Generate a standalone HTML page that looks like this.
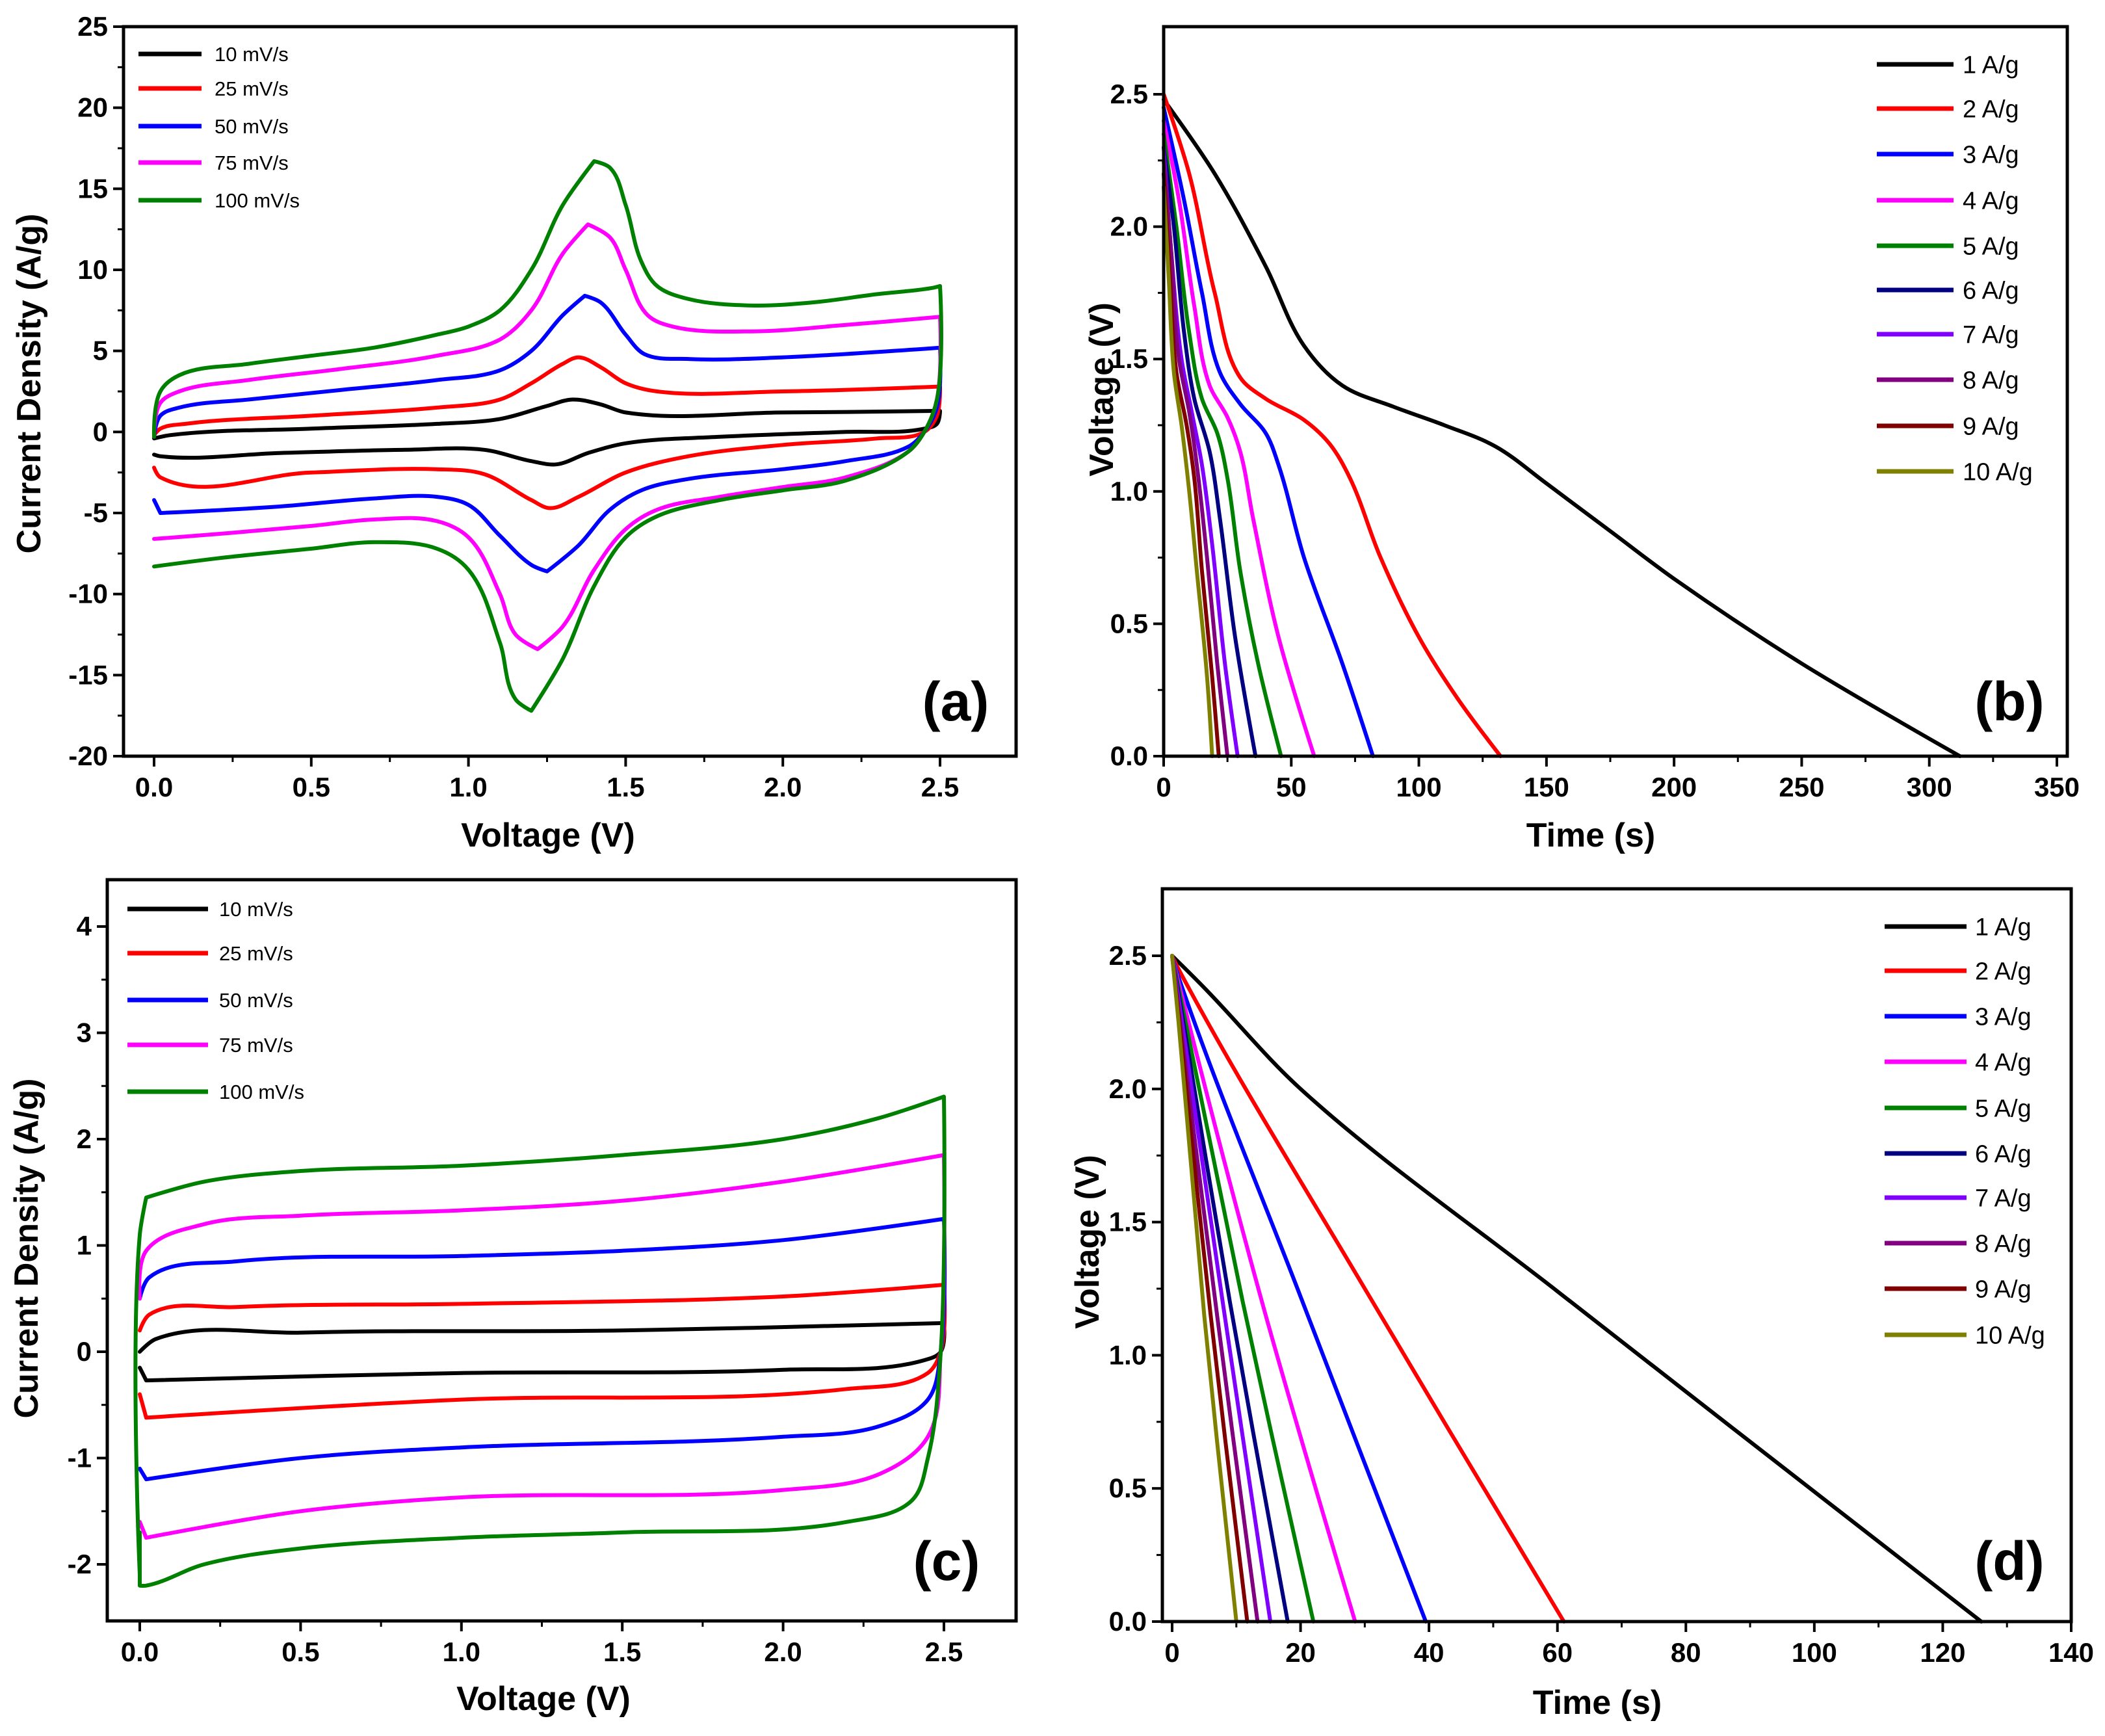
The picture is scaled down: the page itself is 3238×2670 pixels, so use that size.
<!DOCTYPE html>
<html><head><meta charset="utf-8"><style>
html,body{margin:0;padding:0;background:#fff;}
svg{display:block;font-family:"Liberation Sans",Arial,sans-serif;}
</style></head><body>
<svg id="fig" width="3238" height="2670" viewBox="0 0 3238 2670" xmlns="http://www.w3.org/2000/svg"></svg>
<script>
// ---------- data ----------
const cvRatesA = ["10 mV/s","25 mV/s","50 mV/s","75 mV/s","100 mV/s"];
const cvColors = ["#000000","#ff0000","#0000ff","#ff00ff","#008000"];
const cvA_V = [
 [0,0.05,0.5,0.9,1.1,1.25,1.33,1.42,1.5,2.0,2.5, 2.49,2.45,2.2,1.8,1.5,1.38,1.28,1.2,1.05,0.8,0.4,0.02,0],
 [0,0.02,0.1,0.5,0.9,1.1,1.2,1.3,1.35,1.42,1.5,1.6,2.0,2.5, 2.49,2.45,2.3,2.0,1.7,1.5,1.35,1.26,1.2,1.05,0.9,0.5,0.02,0],
 [0,0.02,0.08,0.3,0.6,0.9,1.1,1.2,1.3,1.37,1.42,1.5,1.56,1.7,2.0,2.5, 2.49,2.45,2.4,2.2,2.0,1.7,1.55,1.45,1.35,1.25,1.2,1.1,1.0,0.9,0.7,0.4,0.02,0],
 [0,0.02,0.08,0.3,0.6,0.9,1.1,1.2,1.3,1.38,1.45,1.5,1.57,1.65,1.9,2.2,2.5, 2.49,2.45,2.4,2.2,2.0,1.8,1.6,1.5,1.4,1.3,1.22,1.15,1.1,1.0,0.9,0.7,0.5,0.2,0],
 [0,0.02,0.08,0.3,0.5,0.7,0.9,1.0,1.1,1.2,1.3,1.4,1.45,1.5,1.55,1.6,1.7,1.9,2.1,2.3,2.48,2.5, 2.49,2.45,2.4,2.2,2.0,1.8,1.6,1.5,1.4,1.3,1.2,1.15,1.1,1.0,0.9,0.7,0.5,0.2,0]
];
const cvA_I = [
 [-0.4,-0.2,0.2,0.5,0.8,1.6,2.0,1.7,1.2,1.2,1.3, 0.5,0.2,0,-0.3,-0.7,-1.3,-2,-1.8,-1.1,-1.1,-1.3,-1.5,-1.4],
 [-0.2,0.2,0.5,1.0,1.5,2.0,3.0,4.2,4.6,4.0,3.0,2.5,2.5,2.8, 1,0,-0.4,-0.8,-1.5,-2.5,-4,-4.7,-4.2,-2.6,-2.3,-2.5,-2.8,-2.2],
 [-0.3,1,1.5,2.0,2.6,3.2,3.8,5,7.2,8.4,8,6,4.8,4.5,4.6,5.2, 1.5,0,-0.9,-1.8,-2.3,-2.9,-3.6,-4.8,-7,-8.6,-8.2,-6.4,-4.5,-4.0,-4.1,-4.6,-5,-4.2],
 [-0.2,1.8,2.5,3.2,3.9,4.7,5.7,7.5,11,12.8,12,10,7.2,6.5,6.2,6.6,7.1, 2,0,-1.2,-2.8,-3.4,-4,-4.8,-6,-8.5,-12,-13.4,-12.5,-10,-6.5,-5.5,-5.4,-5.8,-6.3,-6.6],
 [-0.3,2.5,3.5,4.2,4.7,5.2,6.0,6.5,7.5,10,14,16.7,16.3,14,10.5,9,8.2,7.8,8.0,8.5,8.9,9, 2,0,-1.2,-3,-3.6,-4.2,-5.2,-6.5,-9.5,-14,-17.2,-16.5,-13,-8.5,-7.2,-6.8,-7.2,-7.8,-8.3]
];
const cvC_V = [
 [0,0.05,0.5,1.5,2.5, 2.49,2.45,2.0,1.0,0.02,0],
 [0,0.03,0.3,1.0,2.0,2.5, 2.49,2.45,2.2,1.0,0.02,0],
 [0,0.03,0.3,1.0,1.5,2.0,2.5, 2.49,2.45,2.3,2.0,1.0,0.5,0.02,0],
 [0,0.02,0.2,0.5,1.0,1.5,2.0,2.5, 2.49,2.45,2.3,2.0,1.0,0.5,0.02,0],
 [0,0,0.02,0.2,0.5,1.0,1.5,2.0,2.3,2.5, 2.49,2.45,2.4,2.2,1.5,1.0,0.5,0.2,0.02,0,0]
];
const cvC_I = [
 [0,0.12,0.18,0.2,0.27, 0,-0.07,-0.17,-0.2,-0.27,-0.15],
 [0.2,0.35,0.42,0.45,0.52,0.63, 0,-0.2,-0.35,-0.45,-0.62,-0.4],
 [0.5,0.7,0.85,0.9,0.95,1.05,1.25, 0,-0.45,-0.7,-0.8,-0.9,-1.0,-1.2,-1.1],
 [0.5,0.95,1.2,1.28,1.33,1.42,1.6,1.85, 0,-0.8,-1.15,-1.3,-1.37,-1.5,-1.75,-1.6],
 [-2.1,1.1,1.45,1.6,1.7,1.75,1.85,2.0,2.2,2.4, 0,-1,-1.4,-1.6,-1.7,-1.75,-1.85,-2.0,-2.2,-2.2,-1.7]
];
const gcdLabels = ["1 A/g","2 A/g","3 A/g","4 A/g","5 A/g","6 A/g","7 A/g","8 A/g","9 A/g","10 A/g"];
const gcdColors = ["#000000","#ff0000","#0000ff","#ff00ff","#008000","#000080","#8000ff","#800080","#800000","#808000"];
const gcdB_T = [
 [0,20,40,55,70,90,110,130,150,175,200,250,312],
 [0,10,20,30,40,55,65,73,85,100,115,132],
 [0,8,15,22,30,40,45,55,70,82],
 [0,6,12,18,25,30,35,45,59],
 [0,5,10,15,21,25,30,37,46],
 [0,4,8,12,18,22,28,36],
 [0,3,7,11,15,19,24,29],
 [0,3,6,10,13,17,21,25],
 [0,2.5,5,9,12,15,19,21.6],
 [0,2,4,7,10,13,17,19]
];
const gcdB_V = [
 [2.48,2.2,1.85,1.55,1.4,1.32,1.25,1.17,1.03,0.85,0.67,0.35,0],
 [2.5,2.2,1.75,1.43,1.35,1.27,1.18,1.05,0.75,0.45,0.22,0],
 [2.45,2.1,1.75,1.45,1.33,1.22,1.1,0.75,0.35,0],
 [2.4,2.1,1.7,1.4,1.28,1.15,0.9,0.45,0],
 [2.35,2.0,1.6,1.35,1.22,1.05,0.7,0.35,0],
 [2.3,2.0,1.6,1.35,1.15,0.9,0.45,0],
 [2.3,1.9,1.5,1.3,1.1,0.8,0.35,0],
 [2.25,1.9,1.5,1.3,1.1,0.75,0.35,0],
 [2.2,1.8,1.45,1.25,1.05,0.7,0.3,0],
 [2.15,1.8,1.45,1.25,1.0,0.7,0.3,0]
];
const gcdD_T = [
 [0,5,20,60,126],[0,1,30,61],[0,1,20,39.5],[0,1,14,28.5],[0,1,11,22],
 [0,1,9,18],[0,1,8,15.3],[0,1,7,13.3],[0,1,6,11.7],[0,1,5,10]
];
const gcdD_V = [
 [2.5,2.38,2.0,1.24,0],[2.5,2.45,1.25,0],[2.5,2.42,1.22,0],[2.5,2.4,1.2,0],[2.5,2.38,1.2,0],
 [2.5,2.36,1.2,0],[2.5,2.34,1.18,0],[2.5,2.3,1.15,0],[2.5,2.28,1.15,0],[2.5,2.25,1.15,0]
];
const ticksA_x=["0.0","0.5","1.0","1.5","2.0","2.5"], ticksA_y=[25,20,15,10,5,0,-5,-10,-15,-20];
const ticksB_x=[0,50,100,150,200,250,300,350], ticksB_y=["0.0","0.5","1.0","1.5","2.0","2.5"];
const ticksC_x=["0.0","0.5","1.0","1.5","2.0","2.5"], ticksC_y=[4,3,2,1,0,-1,-2];
const ticksD_x=[0,20,40,60,80,100,120,140], ticksD_y=["0.0","0.5","1.0","1.5","2.0","2.5"];

// ---------- drawing ----------
const NS="http://www.w3.org/2000/svg";
const svg=document.getElementById('fig');
function mk(tag,attrs,parent,text){const e=document.createElementNS(NS,tag);for(const k in attrs)e.setAttribute(k,attrs[k]);if(text!==undefined)e.textContent=text;(parent||svg).appendChild(e);return e;}
// smoothing with sharp corners preserved (no overshoot)
function tangent(P,i){
 if(i===0||i===P.length-1)return null;
 const a=[P[i][0]-P[i-1][0],P[i][1]-P[i-1][1]],b=[P[i+1][0]-P[i][0],P[i+1][1]-P[i][1]];
 const la=Math.hypot(a[0],a[1]),lb=Math.hypot(b[0],b[1]);
 if(la<1e-6||lb<1e-6)return null;
 const cos=(a[0]*b[0]+a[1]*b[1])/(la*lb);
 if(cos<0.5)return null;
 const t=[a[0]/la+b[0]/lb,a[1]/la+b[1]/lb];const lt=Math.hypot(t[0],t[1]);
 return [t[0]/lt,t[1]/lt];
}
function smoothPath(P){
 let d='M'+P[0][0].toFixed(1)+','+P[0][1].toFixed(1);
 const T=P.map((p,i)=>tangent(P,i));
 for(let i=0;i<P.length-1;i++){
  const p1=P[i],p2=P[i+1];const L=Math.hypot(p2[0]-p1[0],p2[1]-p1[1])/3;
  const c1=T[i]?[p1[0]+T[i][0]*L,p1[1]+T[i][1]*L]:p1;
  const c2=T[i+1]?[p2[0]-T[i+1][0]*L,p2[1]-T[i+1][1]*L]:p2;
  d+=' C'+c1[0].toFixed(1)+','+c1[1].toFixed(1)+' '+c2[0].toFixed(1)+','+c2[1].toFixed(1)+' '+p2[0].toFixed(1)+','+p2[1].toFixed(1);
 }
 return d;
}

function panel(cfg){
 const g=mk('g',{});
 
 
 const sx=v=>cfg.px0+(v-cfg.x0)*(cfg.px1-cfg.px0)/(cfg.x1-cfg.x0);
 const sy=v=>cfg.py0+(v-cfg.y0)*(cfg.py1-cfg.py0)/(cfg.y1-cfg.y0);
 const xt=cfg.xt;
 for(let i=0;i<xt.length;i++){
  const v=parseFloat(xt[i]);const x=sx(v);
  const t=mk('line',{x1:x,y1:cfg.B,x2:x,y2:cfg.B+16,stroke:'#000','stroke-width':4},g);
  
  const lb=mk('text',{x:x,y:cfg.B+62,'text-anchor':'middle','font-size':42,'font-weight':'bold'},g,String(xt[i]));
  
  if(i<xt.length-1){const m=sx((v+parseFloat(xt[i+1]))/2);mk('line',{x1:m,y1:cfg.B,x2:m,y2:cfg.B+9,stroke:'#000','stroke-width':3},g);}
 }
 const yt=cfg.yt;
 for(let i=0;i<yt.length;i++){
  const v=parseFloat(yt[i]);const y=sy(v);
  const t=mk('line',{x1:cfg.L-16,y1:y,x2:cfg.L,y2:y,stroke:'#000','stroke-width':4},g);
  
  const lb=mk('text',{x:cfg.L-24,y:y+14,'text-anchor':'end','font-size':42,'font-weight':'bold'},g,String(yt[i]));
  
  if(i<yt.length-1){const m=sy((v+parseFloat(yt[i+1]))/2);mk('line',{x1:cfg.L-9,y1:m,x2:cfg.L,y2:m,stroke:'#000','stroke-width':3},g);}
 }
 for(let s=0;s<cfg.xs.length;s++){
  const P=cfg.xs[s].map((v,i)=>[sx(v),sy(cfg.ys[s][i])]);
  const p=mk('path',{d:smoothPath(P),fill:'none',stroke:cfg.colors[s],'stroke-width':6,'stroke-linejoin':'round','stroke-linecap':'round'},g);
  
  
 }
 const fr=mk('rect',{x:cfg.L,y:cfg.T,width:cfg.R-cfg.L,height:cfg.B-cfg.T,fill:'none',stroke:'#000','stroke-width':5},g);
 
 for(let s=0;s<cfg.labels.length;s++){
  const y=cfg.legY[s];
  const le=mk('g',{},g);
  
  mk('line',{x1:cfg.legX0,y1:y,x2:cfg.legX1,y2:y,stroke:cfg.colors[s],'stroke-width':7},le);
  mk('text',{x:cfg.legTx,y:y+cfg.legFs*0.36,'font-size':cfg.legFs},le,cfg.labels[s]);
 }
 const xtit=mk('text',{x:cfg.xtX,y:cfg.xtY,'text-anchor':'middle','font-size':52,'font-weight':'bold'},g,cfg.xTitle);
 
 const ytit=mk('text',{x:0,y:0,'text-anchor':'middle','font-size':52,'font-weight':'bold',transform:`translate(${cfg.ytX},${cfg.ytY}) rotate(-90)`},g,cfg.yTitle);
 
 const pl=mk('text',{x:cfg.plX,y:cfg.plY,'text-anchor':'middle','font-size':84,'font-weight':'bold'},g,cfg.plabel);
 
}

panel({name:'panel-a-cv',L:190,R:1563,T:41,B:1163,x0:0,x1:2.5,px0:237,px1:1446,y0:25,y1:-20,py0:41,py1:1163,
 xt:ticksA_x,yt:ticksA_y,xs:cvA_V,ys:cvA_I,colors:cvColors,labels:cvRatesA,
 legY:[83,136,194,250,308],legX0:213,legX1:310,legTx:330,legFs:31,
 xTitle:'Voltage (V)',xtX:843,xtY:1302,yTitle:'Current Density (A/g)',ytX:62,ytY:590,plabel:'(a)',plX:1470,plY:1108});
panel({name:'panel-b-gcd',L:1790,R:3180,T:41,B:1163,x0:0,x1:350,px0:1790,px1:3164,y0:0,y1:2.5,py0:1163,py1:145,
 xt:ticksB_x,yt:ticksB_y,xs:gcdB_T,ys:gcdB_V,colors:gcdColors,labels:gcdLabels,
 legY:[99,167,237,308,378,446,514,584,655,725],legX0:2887,legX1:3005,legTx:3019,legFs:38,
 xTitle:'Time (s)',xtX:2447,xtY:1302,yTitle:'Voltage (V)',ytX:1712,ytY:599,plabel:'(b)',plX:3091,plY:1108});
panel({name:'panel-c-cv',L:165,R:1563,T:1353,B:2493,x0:0,x1:2.5,px0:215,px1:1452,y0:4,y1:-2,py0:1425,py1:2406,
 xt:ticksC_x,yt:ticksC_y,xs:cvC_V,ys:cvC_I,colors:cvColors,labels:cvRatesA,
 legY:[1398,1466,1538,1607,1679],legX0:196,legX1:320,legTx:337,legFs:31,
 xTitle:'Voltage (V)',xtX:836,xtY:2630,yTitle:'Current Density (A/g)',ytX:58,ytY:1920,plabel:'(c)',plX:1456,plY:2430});
panel({name:'panel-d-gcd',L:1788,R:3186,T:1367,B:2494,x0:0,x1:140,px0:1803,px1:3186,y0:0,y1:2.5,py0:2494,py1:1470,
 xt:ticksD_x,yt:ticksD_y,xs:gcdD_T,ys:gcdD_V,colors:gcdColors,labels:gcdLabels,
 legY:[1425,1493,1563,1633,1704,1774,1842,1912,1982,2053],legX0:2899,legX1:3025,legTx:3038,legFs:38,
 xTitle:'Time (s)',xtX:2457,xtY:2636,yTitle:'Voltage (V)',ytX:1690,ytY:1910,plabel:'(d)',plX:3091,plY:2430});
</script>
</body></html>
